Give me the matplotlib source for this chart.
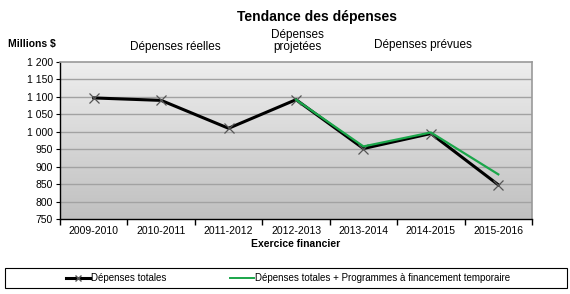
import numpy as np
import matplotlib
matplotlib.use("Agg")
import matplotlib.pyplot as plt
from matplotlib.patches import Rectangle
from matplotlib.lines import Line2D

plt.rcParams['font.family'] = ['Liberation Sans', 'DejaVu Sans']

years = ['2009-2010', '2010-2011', '2011-2012', '2012-2013',
         '2013-2014', '2014-2015', '2015-2016']
totales = [1097, 1090, 1010, 1092, 952, 995, 848]
temporaire_years = ['2012-2013', '2013-2014', '2014-2015', '2015-2016']
temporaire = [1092, 958, 998, 878]
yticks = [750, 800, 850, 900, 950, 1000, 1050, 1100, 1150, 1200]
ytick_labels = ['750', '800', '850', '900', '950', '1 000', '1 050', '1 100', '1 150', '1 200']

W, H = 570, 294
fig = plt.figure(figsize=(W / 100, H / 100), dpi=100)
ax = fig.add_axes([60 / W, 1 - 219 / H, 472 / W, 157 / H])

x = np.arange(len(years))
ax.set_xlim(-0.5, len(years) - 0.5)
ax.set_ylim(750, 1200)

# gradient background
grad = np.linspace(0, 1, 256).reshape(-1, 1)
ax.imshow(grad, extent=(-0.5, len(years) - 0.5, 750, 1200), aspect='auto',
          cmap=matplotlib.colors.LinearSegmentedColormap.from_list('g', ['#eeeeee', '#c0c0c0']),
          origin='upper', zorder=0)

for yv in yticks[1:-1]:
    ax.axhline(yv, color='#a2a2a2', lw=1.0, zorder=1)

xt = [years.index(y) for y in temporaire_years]
ax.plot(x, totales, color='black', lw=2.2, marker='x', ms=7, mec='#555555', mew=0.9, zorder=3)
ax.plot(xt, temporaire, color='#1aa64a', lw=1.6, zorder=4)

ax.set_yticks(yticks)
ax.set_yticklabels(ytick_labels, fontsize=7.5)
ax.set_xticks(x)
ax.set_xticklabels(years, fontsize=7.5)
ax.set_xticks(np.arange(-0.5, len(years)), minor=True)
ax.tick_params(axis='x', which='major', length=0, pad=5)
ax.tick_params(axis='x', which='minor', length=4, direction='out', width=1)
ax.tick_params(axis='y', length=3, direction='out', pad=2)
for s in ['top', 'right']:
    ax.spines[s].set_color('#999999')
    ax.spines[s].set_linewidth(1.2)
for s in ['left', 'bottom']:
    ax.spines[s].set_color('black')
    ax.spines[s].set_linewidth(1.0)

ax.set_xlabel('Exercice financier', fontsize=7.5, fontweight='bold', labelpad=2)

fig.text(317 / W, 1 - 17 / H, 'Tendance des dépenses', fontsize=10, fontweight='bold',
         ha='center', va='center')
fig.text(8 / W, 1 - 44 / H, 'Millions $', fontsize=7.5, fontweight='bold', ha='left', va='center')
fig.text(175 / W, 1 - 47 / H, 'Dépenses réelles', fontsize=8.5, ha='center', va='center')
fig.text(297 / W, 1 - 41 / H, 'Dépenses\nprojetées', fontsize=8.5, ha='center', va='center',
         linespacing=0.95)
fig.text(423 / W, 1 - 45 / H, 'Dépenses prévues', fontsize=8.5, ha='center', va='center')

# legend box
fig.patches.append(Rectangle((5 / W, 1 - 288 / H), 562 / W, 20 / H, transform=fig.transFigure,
                             fill=False, edgecolor='black', lw=0.8))
handles = [Line2D([], [], color='black', lw=2.2, marker='x', ms=4, mec='#555555'),
           Line2D([], [], color='#1aa64a', lw=1.4)]
labels = ['Dépenses totales', 'Dépenses totales + Programmes à financement temporaire']
fig.legend(handles, labels, loc='center', bbox_to_anchor=(288 / W, 1 - 278 / H), ncol=2,
           frameon=False, fontsize=7, handlelength=2.5, handletextpad=0.1,
           columnspacing=6.5)

fig.savefig('out.png', dpi=100)
